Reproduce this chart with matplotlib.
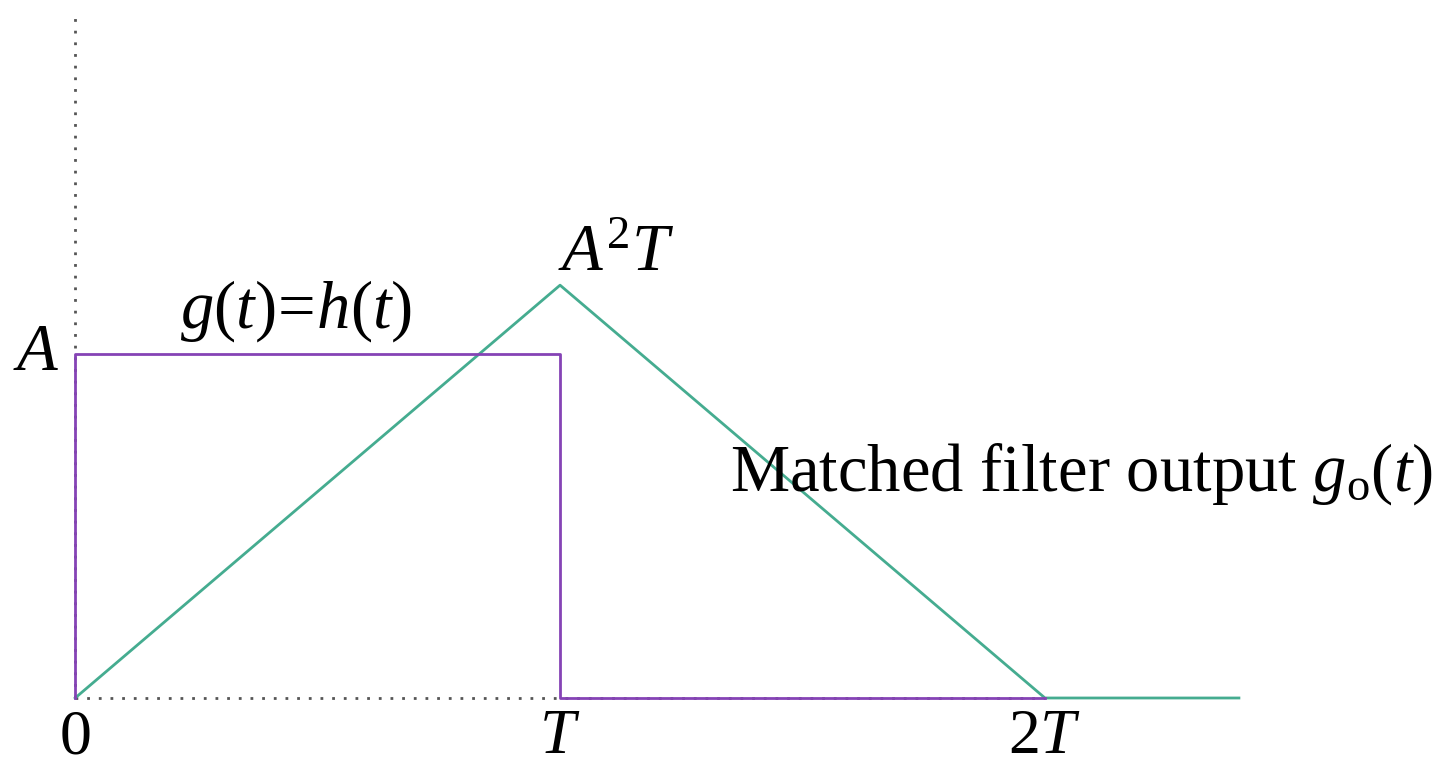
import matplotlib.pyplot as plt

plt.rcParams['font.family'] = 'Liberation Serif'
plt.rcParams['mathtext.fontset'] = 'custom'
plt.rcParams['mathtext.rm'] = 'Liberation Serif'
plt.rcParams['mathtext.it'] = 'Liberation Serif:italic'

# rectangular pulse g(t) = h(t), amplitude A over 0..T
pulse_t = [0, 0, 1, 1, 2]
pulse_y = [0, 1, 1, 0, 0]

# matched filter output: triangle peaking at t = T with height A^2 T
out_t = [0, 1, 2, 2.4]
out_y = [0, 1.2, 0, 0]

tick_pos = [0, 1, 2]
tick_txt = ['0', r'$T$', r'$2T$']

purple = '#8543b5'
green = '#45ac90'
fs = 48

fig = plt.figure(figsize=(14.45, 7.68), dpi=100)
ax = fig.add_axes([0, 0, 1, 1])
ax.set_xlim(-0.155, 2.825)
ax.set_ylim(-0.2035, 2.029)
ax.axis('off')

# dotted axes
ax.plot([0, 0], [0, 2.0], color='#555555', lw=2, ls=(0, (1, 3.2)))
ax.plot([0, 2], [0, 0], color='#555555', lw=2, ls=(0, (1, 3.2)))

ax.plot(out_t, out_y, color=green, lw=2)
ax.plot(pulse_t, pulse_y, color=purple, lw=2)

for x, s in zip(tick_pos, tick_txt):
    ax.text(x, -0.16, s, ha='center', va='baseline', fontsize=46)

ax.text(-0.08, 1.0, r'$A$', ha='center', va='center', fontsize=fs)
ax.text(0.995, out_y[1], r'$A^2T$', ha='left', va='bottom', fontsize=fs)
ax.text(0.455, 1.03, r'$g(t)\!=\!h(t)$', ha='center', va='bottom', fontsize=fs)
ax.text(2.075, 0.65, r'Matched filter output $g_{\mathrm{o}}(t)$',
        ha='center', va='center', fontsize=fs)

fig.savefig('out.png', dpi=100)
